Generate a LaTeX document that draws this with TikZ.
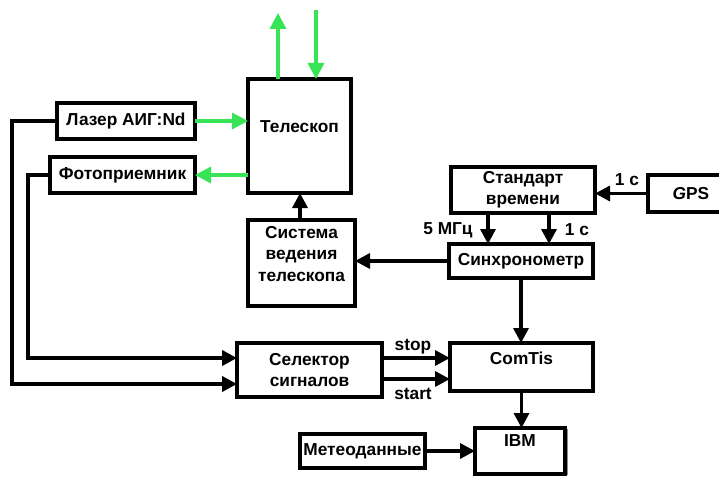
\documentclass[tikz,border=0pt]{standalone}
\usepackage{fontspec}
\setmainfont{Liberation Sans}
\usetikzlibrary{arrows.meta,shadows}
\definecolor{lgreen}{RGB}{55,228,85}
\begin{document}
\begin{tikzpicture}[x=1pt,y=-1pt,
  box/.style={draw=black,line width=3.3pt,fill=white,inner sep=0pt,outer sep=0pt,align=center,
    font=\fontsize{17.3}{21.5}\selectfont\bfseries},
  txt/.style={font=\fontsize{17.3}{21.5}\selectfont\bfseries,inner sep=0pt},
  arr/.style={line width=3.3pt,-{Triangle[length=15pt,width=15pt]}},
  garr/.style={line width=3.3pt,draw=lgreen,-{Triangle[length=16pt,width=16pt]},color=lgreen},
  wire/.style={line width=3.8pt}]
\clip (0,0) rectangle (719,476);
\fill[white] (0,0) rectangle (719,476);
% boxes
\node[box,minimum width=103pt,minimum height=114pt] (tel) at (299.5,136) {};
\node[txt] (teltxt) at (299.5,127) {Телескоп};
\node[box,minimum width=138pt,minimum height=36pt] (laser) at (126,121) {Лазер АИГ:Nd};
\node[box,minimum width=145pt,minimum height=36pt] (photo) at (122.5,175) {Фотоприемник};
\node[box,minimum width=107pt,minimum height=86pt] (sys) at (301.5,263) {};
\node[txt,align=center] (systxt) at (301.5,254) {Система\\ведения\\телескопа};
\node[box,minimum width=144pt,minimum height=46pt] (std) at (523,190) {Стандарт\\времени};
\node[box,minimum width=95pt,minimum height=37pt] (gps) at (695.5,193.5) {\textit{G}PS\hspace*{9pt}};
\node[box,minimum width=144pt,minimum height=34pt] (sync) at (521,261) {Синхронометр};
\node[box,minimum width=145pt,minimum height=54pt] (sel) at (309.5,370) {Селектор\\сигналов};
\node[box,minimum width=143pt,minimum height=48pt] (comtis) at (521.5,367) {};
\node[txt] (comtistxt) at (521.5,358) {ComTis};
\node[box,minimum width=90pt,minimum height=46pt,drop shadow={shadow xshift=2.5pt,shadow yshift=-1pt,fill=black!45,opacity=1}] (ibm) at (520,451) {};
\node[txt] (ibmtxt) at (520,441) {IBM};
\node[box,minimum width=125pt,minimum height=34pt] (meteo) at (362.5,451) {Метеоданные};
% green optical paths
\coordinate (g1) at (278,13);
\coordinate (g2) at (316,10);
\draw[garr] (g1 |- tel.north) -- (g1);
\draw[garr] (g2) -- (g2 |- tel.north);
\draw[garr] (laser.east) -- (laser.east -| tel.west);
\draw[garr] (photo.east -| tel.west) -- (photo.east);
% black connectors
\draw[arr] (sys.north -| 300,0) -- (tel.south -| 300,0);
\draw[arr] (gps.west) -- (gps.west -| std.east);
\node[txt] (l1c) at (627,180) {1 с};
\coordinate (s1) at (488,0);
\coordinate (s2) at (549,0);
\draw[arr] (s1 |- std.south) -- (s1 |- sync.north);
\draw[arr] (s2 |- std.south) -- (s2 |- sync.north);
\node[txt] (l5) at (448,230) {5 МГц};
\node[txt] (l1c2) at (577,230) {1 с};
\draw[arr] (sync.west) -- (sync.west -| sys.east);
\draw[arr] (sync.south) -- (sync.south |- comtis.north);
\coordinate (stopy) at (0,358);
\coordinate (starty) at (0,379);
\draw[arr] (stopy -| sel.east) -- (stopy -| comtis.west);
\draw[arr] (starty -| sel.east) -- (starty -| comtis.west);
\node[txt] (lstop) at (413,347) {stop};
\node[txt] (lstart) at (413,394) {start};
\draw[arr] (comtis.south) -- (comtis.south |- ibm.north);
\draw[arr] (meteo.east) -- (meteo.east -| ibm.west);
% wires from laser and photodetector to selector
\coordinate (w1) at (12,384);
\coordinate (w2) at (28,358);
\draw[wire,-{Triangle[length=15pt,width=15pt]}] (laser.west) -| (w1) -- (w1 -| sel.west);
\draw[wire,-{Triangle[length=15pt,width=15pt]}] (photo.west) -| (w2) -- (w2 -| sel.west);
\end{tikzpicture}
\end{document}
